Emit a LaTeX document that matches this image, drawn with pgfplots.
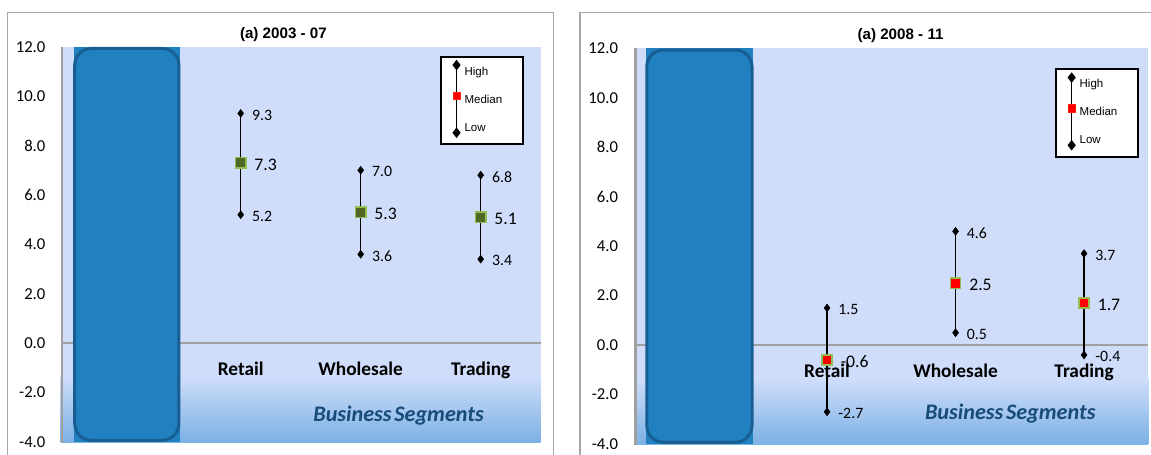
\documentclass[border=0pt]{standalone}
\usepackage{fontspec}
\setmainfont{Carlito}
\newfontfamily\arialfont{Liberation Sans}
\usepackage{pgfplots}
\pgfplotsset{compat=1.18}
\definecolor{bgblue}{RGB}{207,221,250}
\definecolor{gradblue}{RGB}{124,177,228}
\definecolor{barblue}{RGB}{33,128,192}
\definecolor{baredge}{RGB}{24,94,146}
\definecolor{axgray}{RGB}{160,160,160}
\definecolor{framegray}{RGB}{166,166,166}
\definecolor{medgreen}{RGB}{79,102,36}
\definecolor{medborder}{RGB}{146,190,84}
\definecolor{segblue}{RGB}{23,75,120}

\pgfplotsset{
  panel/.style={
    scale only axis, clip=false, axis on top,
    xmin=-0.5, xmax=3.5, ymin=-4, ymax=12,
    axis line style={draw=none},
    major tick length=0pt,
    ytick={-4,-2,0,2,4,6,8,10,12},
    yticklabels={-4.0,-2.0,0.0,2.0,4.0,6.0,8.0,10.0,12.0},
    xtick={1,2,3},
    xticklabels={Retail,Wholesale,Trading},
    yticklabel style={inner sep=0pt, anchor=east, font=\fontsize{10}{12}\selectfont},
    xticklabel style={inner sep=0pt, anchor=base, yshift=39.8pt, font=\fontsize{11.6}{13}\selectfont\bfseries},
    xlabel={Business\hspace{0.12em}Segments},
    xlabel style={anchor=base, inner sep=0pt, font=\fontsize{13.3}{15}\selectfont\bfseries\itshape, text=segblue},
    every axis title shift=0pt,
    title style={anchor=base, inner sep=0pt, font=\arialfont\bfseries\fontsize{9.1}{11}\selectfont},
    legend style={anchor=north west, draw=black, line width=1.2pt, fill=white,
      inner xsep=0pt, inner ysep=4.2pt, column sep=0pt, row sep=6.3pt,
      font=\arialfont\fontsize{6.9}{8}\selectfont,
      cells={anchor=west, inner sep=0pt, text width=33pt, text height=5pt, text depth=0pt}},
  },
  whisk/.style={forget plot, black, line width=0.9pt, mark=diamond*, mark size=2.3pt,
    mark options={fill=black, line width=0.4pt},
    nodes near coords, point meta=explicit symbolic,
    every node near coord/.append style={anchor=west, xshift=6.6pt, yshift=-1pt, inner sep=0pt, text=black, font=\fontsize{9.5}{11}\selectfont}},
  med/.style={forget plot, only marks, mark=square*, mark size=3.05pt,
    mark options={fill=#1, draw=medborder, line width=0.9pt},
    nodes near coords, point meta=explicit symbolic,
    every node near coord/.append style={anchor=west, xshift=7.8pt, yshift=-1pt, inner sep=0pt, text=black, font=\fontsize{10.6}{12}\selectfont}},
  hlm high/.style={legend image code/.code={%
    \path[draw=none, fill=none] (0pt,0pt) -- (12.2pt,0pt);
    \draw[overlay, black, line width=0.9pt] (9.4pt,4.5pt) -- (9.4pt,-36.1pt);
    \fill[overlay, black] (9.4pt,6.7pt) -- (11.1pt,4.5pt) -- (9.4pt,2.3pt) -- (7.7pt,4.5pt) -- cycle;
    \fill[overlay, black] (9.4pt,-33.9pt) -- (11.1pt,-36.1pt) -- (9.4pt,-38.3pt) -- (7.7pt,-36.1pt) -- cycle;
    \filldraw[overlay, fill=red, draw=red!70!orange, line width=0.3pt] (7.3pt,-16.1pt) rectangle (11.5pt,-11.7pt);
  }},
  hlm empty/.style={legend image code/.code={\path[draw=none, fill=none] (0pt,0pt) -- (12.2pt,0pt);}},
}

\begin{document}
\begin{tikzpicture}
\path[use as bounding box] (0pt,0pt) rectangle (690.6pt,-273pt);
\begin{scope}[x=0.6pt,y=-0.6pt]
  \draw[framegray, line width=0.9pt] (7.3,480) -- (7.3,12.3) -- (553.3,12.3) -- (553.3,480);
  \draw[framegray, line width=0.9pt] (580,480) -- (580,12.3) -- (1170,12.3);
\end{scope}

% ---------------- left panel ----------------
\begin{axis}[panel, at={(36.42pt,-265.2pt)}, anchor=south west,
  width=288pt, height=237.18pt,
  yticklabel style={xshift=-9pt},
  title={(a) 2003 - 07}, title style={at={(rel axis cs:0.464,1)}, yshift=5pt},
  xlabel style={at={(rel axis cs:0.704,0.0514)}},
  legend style={at={(rel axis cs:0.790,0.977)}}]
  \fill[bgblue] (axis cs:-0.5,-4) rectangle (axis cs:3.5,12);
  \shade[top color=bgblue, bottom color=gradblue] (axis cs:-0.5,-4) rectangle (axis cs:3.5,-1.35);
  \draw[axgray, line width=1.2pt] (axis cs:-0.5,0) -- (axis cs:3.5,0);
  \draw[axgray, line width=1.4pt] (axis cs:-0.49,-4.05) -- (axis cs:-0.49,12);
  \addplot[forget plot, fill=barblue, draw=none] coordinates {(-0.389,-4) (0.494,-4) (0.494,12) (-0.389,12)} -- cycle;
  \addplot[forget plot, draw=baredge, line width=1.8pt, rounded corners=10pt] coordinates {(-0.383,-3.93) (0.485,-3.93) (0.485,11.93) (-0.383,11.93)} -- cycle;
  \addplot[whisk] coordinates {(1,5.2) [5.2] (1,9.3) [9.3]};
  \addplot[whisk] coordinates {(2,3.6) [3.6] (2,7.0) [7.0]};
  \addplot[whisk] coordinates {(3,3.4) [3.4] (3,6.8) [6.8]};
  \addplot[med=medgreen] coordinates {(1,7.3) [7.3] (2,5.3) [5.3] (3,5.1) [5.1]};
  \addlegendimage{hlm high}
  \addlegendentry{High}
  \addlegendimage{hlm empty}
  \addlegendentry{Median}
  \addlegendimage{hlm empty}
  \addlegendentry{Low}
\end{axis}

% ---------------- right panel ----------------
\begin{axis}[panel, at={(380.58pt,-266.4pt)}, anchor=south west,
  width=308.4pt, height=237.42pt,
  yticklabel style={xshift=-9.6pt},
  title={(a) 2008 - 11}, title style={at={(rel axis cs:0.518,1)}, yshift=5.4pt},
  xlabel style={at={(rel axis cs:0.7315,0.0624)}},
  legend style={at={(rel axis cs:0.8185,0.9494)}}]
  \fill[bgblue] (axis cs:-0.5,-4) rectangle (axis cs:3.5,12);
  \shade[top color=bgblue, bottom color=gradblue] (axis cs:-0.5,-4) rectangle (axis cs:3.5,-1.35);
  \draw[axgray, line width=1.2pt] (axis cs:-0.5,0) -- (axis cs:3.5,0);
  \draw[axgray, line width=1.4pt] (axis cs:-0.49,-4.05) -- (axis cs:-0.49,12);
  \addplot[forget plot, fill=barblue, draw=none] coordinates {(-0.409,-4) (0.424,-4) (0.424,12) (-0.409,12)} -- cycle;
  \addplot[forget plot, draw=baredge, line width=1.8pt, rounded corners=10pt] coordinates {(-0.403,-3.93) (0.416,-3.93) (0.416,11.93) (-0.403,11.93)} -- cycle;
  \addplot[whisk] coordinates {(1,-2.7) [-2.7] (1,1.5) [1.5]};
  \addplot[whisk] coordinates {(2,0.5) [0.5] (2,4.6) [4.6]};
  \addplot[whisk] coordinates {(3,-0.4) [-0.4] (3,3.7) [3.7]};
  \addplot[med=red] coordinates {(1,-0.6) [-0.6] (2,2.5) [2.5] (3,1.7) [1.7]};
  \addlegendimage{hlm high}
  \addlegendentry{High}
  \addlegendimage{hlm empty}
  \addlegendentry{Median}
  \addlegendimage{hlm empty}
  \addlegendentry{Low}
\end{axis}
\end{tikzpicture}
\end{document}
